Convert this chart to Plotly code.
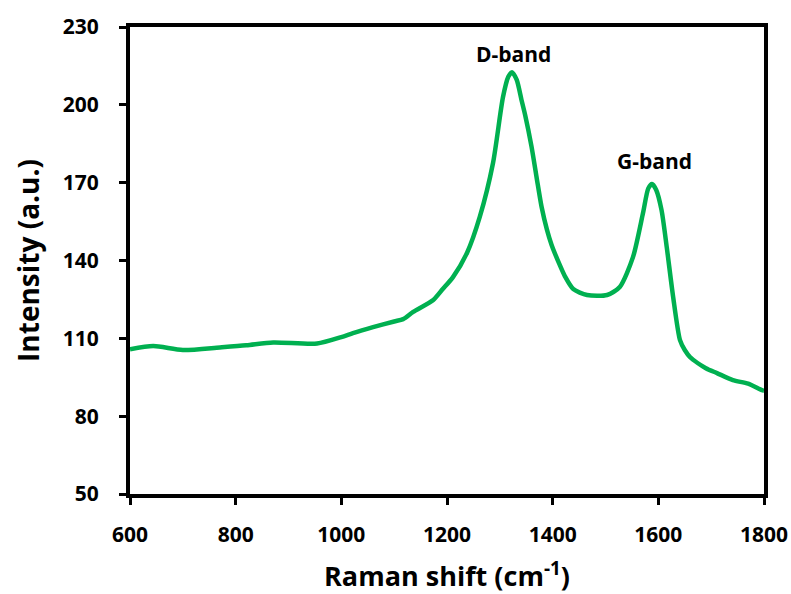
import plotly.graph_objects as go

raman_shift = [600, 644, 700, 770, 820, 871, 954, 1000, 1022, 1060, 1100, 1117, 1136, 1174, 1192,
               1211, 1238, 1262, 1287, 1306, 1316, 1323, 1332, 1341, 1348, 1360, 1370, 1379, 1389,
               1398, 1414, 1423, 1439, 1465, 1503, 1527, 1552, 1571, 1581, 1588, 1596, 1606, 1616,
               1628, 1641, 1650, 1660, 1690, 1711, 1741, 1770, 1796, 1800]
intensity = [105.8, 107.0, 105.5, 106.5, 107.3, 108.4, 108.0, 110.5, 112.0, 114.3, 116.5, 117.4, 120.2,
             124.8, 129.0, 133.5, 143.0, 156.8, 177.5, 203.0, 210.8, 212.6, 209.6, 201.9, 196.0,
             183.9, 171.5, 160.7, 152.0, 146.0, 138.0, 134.0, 129.0, 126.7, 126.7, 129.8, 141.3,
             158.3, 167.8, 169.5, 167.2, 159.5, 145.0, 126.0, 109.3, 105.5, 102.8, 98.5, 96.6,
             93.9, 92.5, 90.0, 89.8]

x_ticks = [600, 800, 1000, 1200, 1400, 1600, 1800]
y_ticks = [50, 80, 110, 140, 170, 200, 230]

band_labels = ["D-band", "G-band"]
band_x = [1325, 1592]
band_y = [219.5, 178.5]

FONT = "Open Sans, Noto Sans, sans-serif"

fig = go.Figure()
fig.add_trace(go.Scatter(
    x=raman_shift, y=intensity, mode="lines",
    line=dict(color="#00B050", width=4.5, shape="spline", smoothing=0.7),
    showlegend=False, hoverinfo="skip"))

for t, xx, yy in zip(band_labels, band_x, band_y):
    fig.add_annotation(x=xx, y=yy, text="<b>%s</b>" % t, showarrow=False,
                       font=dict(family=FONT, size=21, color="black"))

axis_common = dict(showgrid=False, zeroline=False, showline=True, linecolor="black", linewidth=4,
                   mirror=True, ticks="outside", tickcolor="black", tickwidth=3, ticklen=7,
                   automargin=False,
                   tickfont=dict(family=FONT, size=21, color="black"))

fig.update_xaxes(range=[600, 1800], tickvals=x_ticks, ticktext=["<b>%d</b>" % v for v in x_ticks],
                 ticklabelstandoff=12,
                 title=dict(text="<b>Raman shift (cm<sup>-1</sup>)</b>", standoff=24,
                            font=dict(family=FONT, size=27, color="black")),
                 **axis_common)
fig.update_yaxes(range=[50, 230], tickvals=y_ticks, ticktext=["<b>%d</b>" % v for v in y_ticks],
                 ticklabelstandoff=16,
                 title=dict(text="<b>Intensity (a.u.)</b>", standoff=16,
                            font=dict(family=FONT, size=28, color="black")),
                 **axis_common)

fig.update_layout(width=791, height=594, margin=dict(l=130, r=27, t=27, b=100),
                  plot_bgcolor="white", paper_bgcolor="white")

fig.write_html("out.html")
